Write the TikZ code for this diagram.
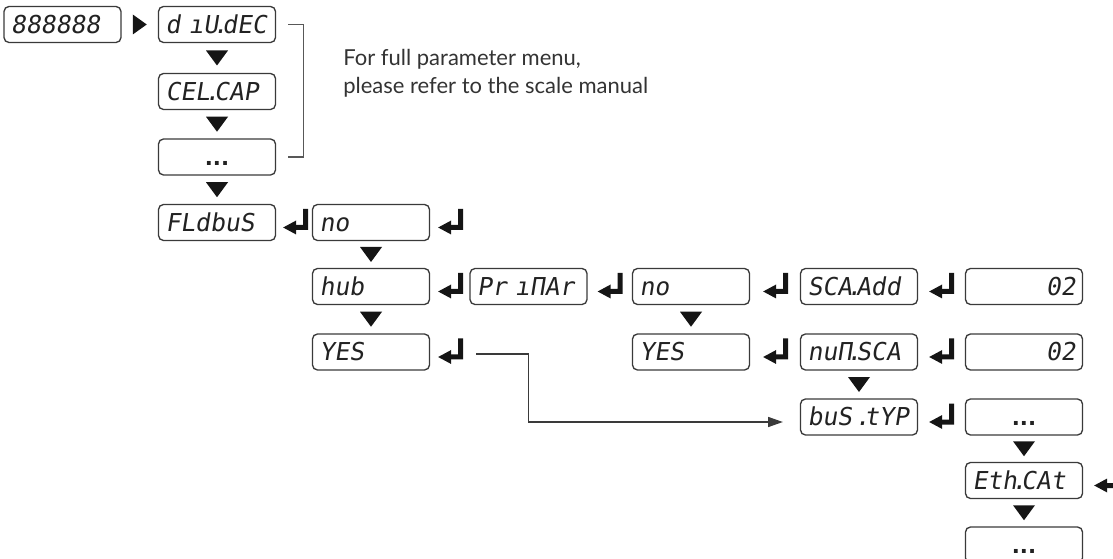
\documentclass[tikz,border=0pt]{standalone}
\usepackage{fontspec}
\setmainfont{Lato}
\newfontfamily\lcd[FakeSlant=0.16,WordSpace=0.3]{DejaVu Sans Mono}
\newfontfamily\dotsfont{DejaVu Sans}
\usetikzlibrary{calc,arrows.meta}
\definecolor{boxc}{HTML}{3A3A3A}
\definecolor{txtc}{HTML}{222222}
\definecolor{tric}{HTML}{151515}
\definecolor{notec}{HTML}{333333}
\newcommand\sdot{\kern-0.22em.\kern-0.22em}
\tikzset{
  box/.style={draw=boxc, line width=1pt, rounded corners=3.75pt,
    minimum width=87.75pt, minimum height=27pt, text width=77.25pt,
    inner xsep=5.25pt, inner ysep=0pt, text height=13.1pt, text depth=0pt,
    font=\lcd\fontsize{18.5}{18.5}\selectfont, text=txtc, align=left},
  valbox/.style={box, align=right},
  dotbox/.style={box, align=center, font=\dotsfont\bfseries\fontsize{16}{16}\selectfont},
  conn/.style={draw=boxc, line width=0.9pt, -{Triangle[length=11pt,width=7.5pt]}},
  brk/.style={draw=boxc!85, line width=0.9pt},
  ret/.pic={
    \fill[tric] (0,0) -- (13,-7) -- (13,7) -- cycle;
    \fill[tric] (12,-2.5) -- (20,-2.5) -- (20,-18.5) -- (25,-18.5) -- (25,2.5) -- (12,2.5) -- cycle;
  }
}
\newcommand\downtri[2]{\fill[tric] ($(#1.south)!0.5!(#2.north)$) ++(-11,-7.5) -- ++(22,0) -- ++(-11,15) -- cycle;}
\begin{document}
\begin{tikzpicture}[x=0.75pt,y=-0.75pt]
\useasboundingbox (0,0) rectangle (1113,559);
% column 0/1
\node[box] (disp) at (62.5,24.5) {888888};
\node[box] (dive) at (217,24.5) {d ıU\sdot{}dEC};
\node[box] (cel) at (217,91.5) {CEL\sdot{}CAP};
\node[dotbox] (dots1) at (217,157) {...};
\node[box] (fld) at (217,222.5) {FLdbuS};
% column 2
\node[box] (no1) at (371,222.5) {no};
\node[box] (hub) at (371,286.5) {hub};
\node[box] (yes1) at (371,352) {YES};
% row 4
\node[box] (pri) at (528.5,286.5) {Pr ıΠAr};
\node[box] (no2) at (691,286.5) {no};
\node[box] (sca) at (859,286.5) {SCA\sdot{}Add};
\node[valbox] (v1) at (1024,286.5) {02};
% row 5
\node[box] (yes2) at (691,352) {YES};
\node[box] (num) at (859,352) {nuΠ\sdot{}SCA};
\node[valbox] (v2) at (1024,352) {02};
% rows 6-8
\node[box] (bus) at (859,417) {buS \sdot{}tYP};
\node[dotbox] (dots2) at (1024,417) {...};
\node[box] (eth) at (1024,480.5) {Eth\sdot{}CAt};
\node[dotbox] (dots3) at (1024,545) {...};
% note
\node[anchor=base west, align=left, font=\fontsize{16.5}{21}\selectfont, text=notec, inner sep=0pt] (note) at (343,94)
  {For full parameter menu,\\please refer to the scale manual};
% bracket
\draw[brk] ([xshift=9pt]dive.east) -| ([xshift=20.25pt]dots1.east) -- ([xshift=9pt]dots1.east);
% right triangle
\fill[tric] ($(disp.east)!0.5!(dive.west)$) ++(-7,-10) -- ++(0,20) -- ++(14,-10) -- cycle;
% down triangles
\downtri{dive}{cel}
\downtri{cel}{dots1}
\downtri{dots1}{fld}
\downtri{no1}{hub}
\downtri{hub}{yes1}
\downtri{no2}{yes2}
\downtri{num}{bus}
\downtri{dots2}{eth}
\downtri{eth}{dots3}
% return arrows
\pic at ([xshift=5.25pt,yshift=-3.75pt]fld.east) {ret};
\pic at ([xshift=6pt,yshift=-3.75pt]no1.east) {ret};
\pic at ([xshift=6pt,yshift=-3.75pt]hub.east) {ret};
\pic at ([xshift=7.5pt,yshift=-3.75pt]pri.east) {ret};
\pic at ([xshift=9.75pt,yshift=-3.75pt]no2.east) {ret};
\pic at ([xshift=8.25pt,yshift=-3.75pt]sca.east) {ret};
\pic at ([xshift=6pt,yshift=-3.75pt]yes1.east) {ret};
\pic at ([xshift=9.75pt,yshift=-3.75pt]yes2.east) {ret};
\pic at ([xshift=8.25pt,yshift=-3.75pt]num.east) {ret};
\pic at ([xshift=8.25pt,yshift=-3.75pt]bus.east) {ret};
\pic at ([xshift=8.25pt,yshift=-3.75pt]eth.east) {ret};
% long connector
\coordinate (lstart) at ([xshift=34.5pt,yshift=-1.5pt]yes1.east);
\draw[conn] (lstart) -| ([yshift=-3.75pt]pri.center |- bus.west) -- ([xshift=-12.75pt,yshift=-3.75pt]bus.west);
\end{tikzpicture}
\end{document}
